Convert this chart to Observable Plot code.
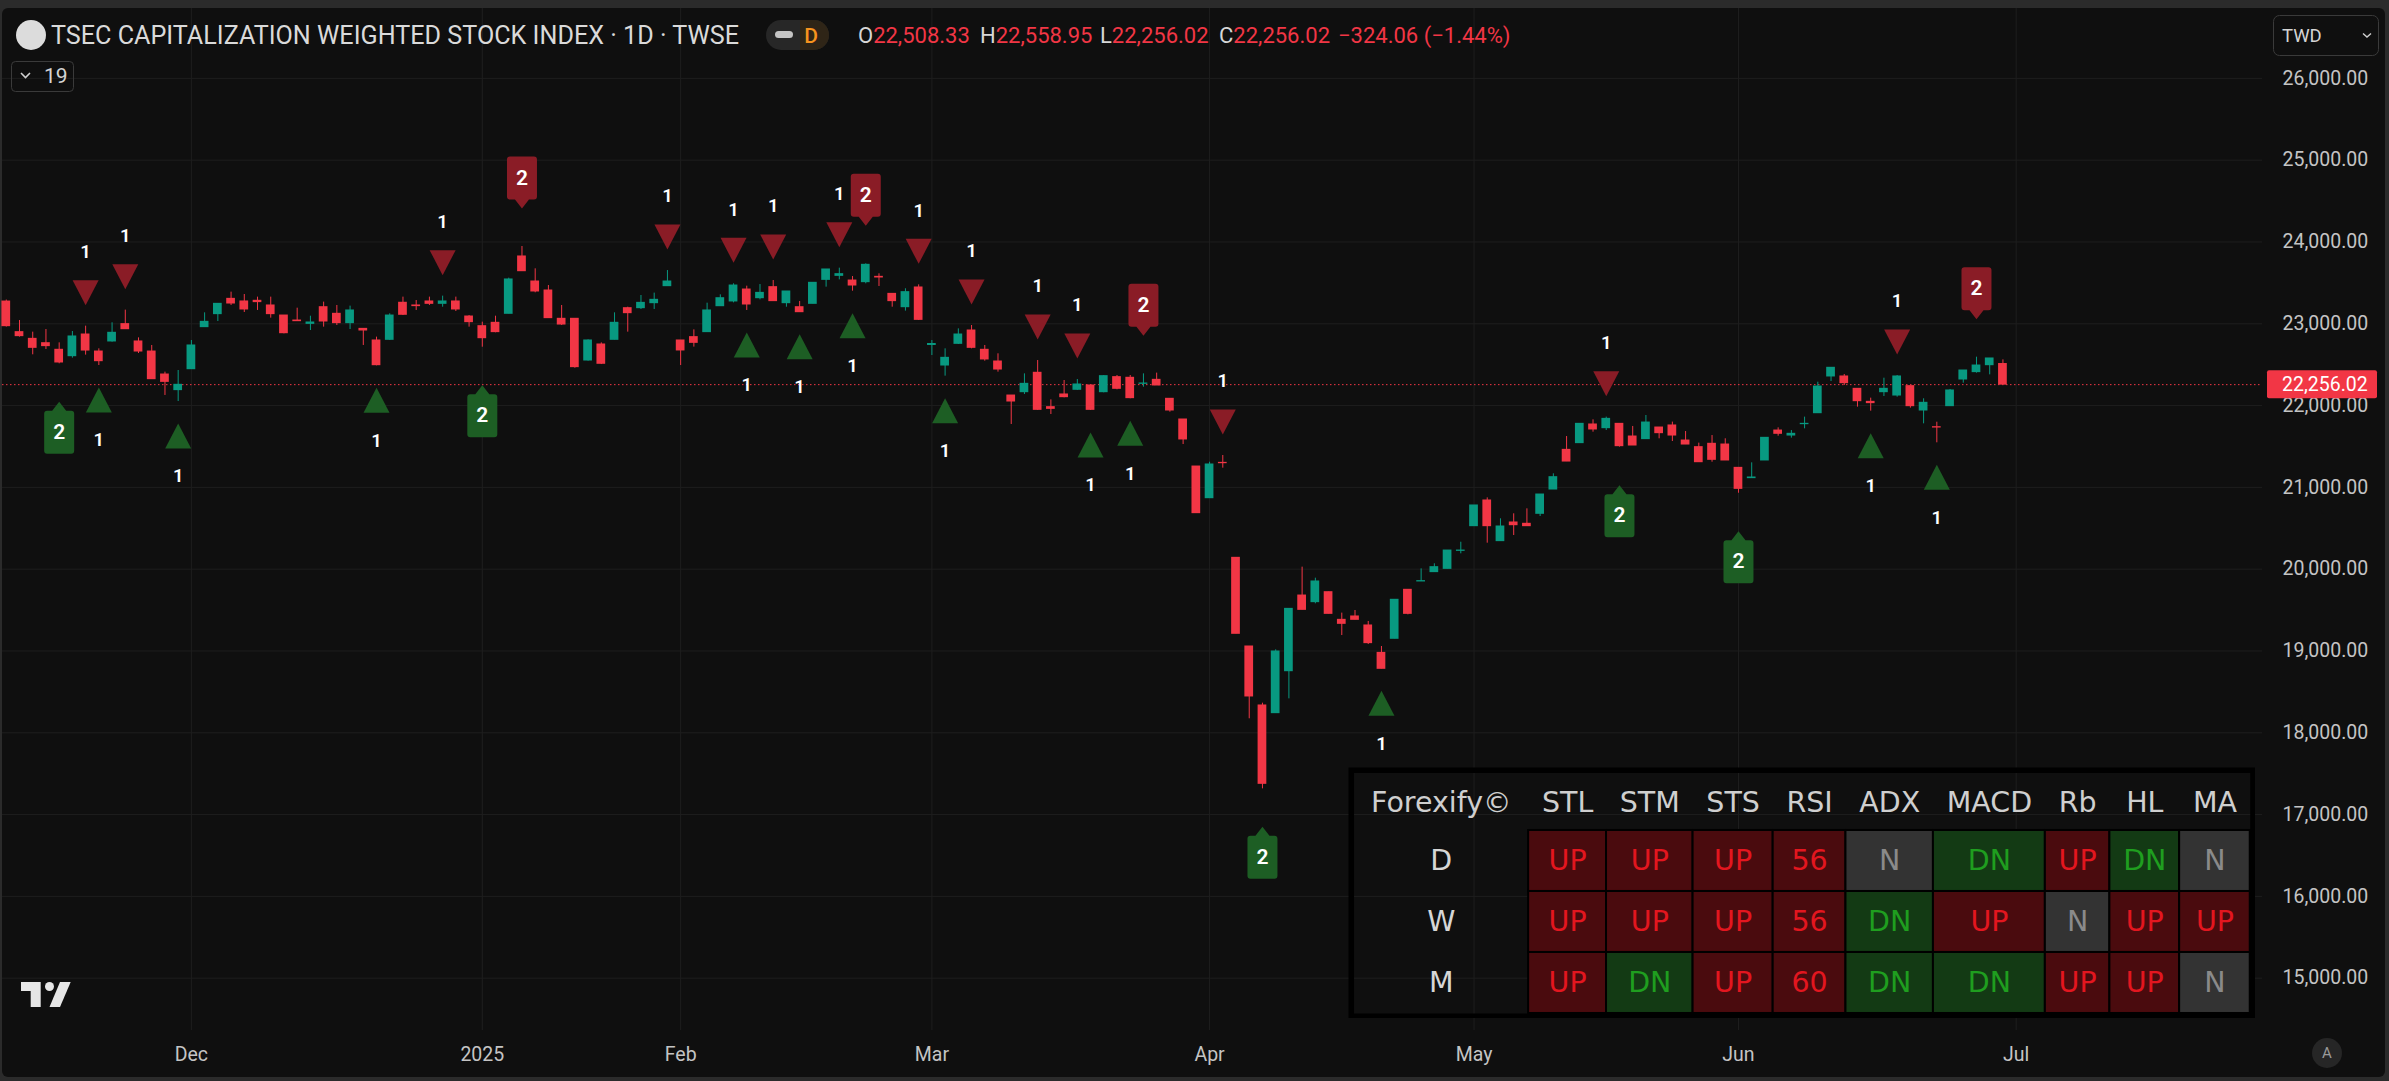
<!DOCTYPE html>
<html>
<head>
<meta charset="utf-8">
<script src="https://cdn.jsdelivr.net/npm/d3@7"></script>
<script src="https://cdn.jsdelivr.net/npm/@observablehq/plot@0.6"></script>
<style>
  html, body { margin: 0; padding: 0; background: #2b2b2b; }
  #wrap { position: relative; width: 2389px; height: 1081px; overflow: hidden; }
  #pane { position: absolute; left: 2px; top: 8px; width: 2383px; height: 1069px; background: #0f0f0f; border-radius: 6px; }
  #wrap > svg, #wrap > figure { position: absolute; margin: 0; }
</style>
</head>
<body>
<div id="wrap"><div id="pane"></div></div>
<script>
// ---------------- DATA ----------------
const dates = [
"2024-11-12","2024-11-13","2024-11-14","2024-11-15","2024-11-18","2024-11-19","2024-11-20","2024-11-21","2024-11-22","2024-11-25","2024-11-26","2024-11-27","2024-11-28","2024-11-29",
"2024-12-02","2024-12-03","2024-12-04","2024-12-05","2024-12-06","2024-12-09","2024-12-10","2024-12-11","2024-12-12","2024-12-13","2024-12-16","2024-12-17","2024-12-18","2024-12-19","2024-12-20","2024-12-23","2024-12-24","2024-12-25","2024-12-26","2024-12-27","2024-12-30","2024-12-31",
"2025-01-02","2025-01-03","2025-01-06","2025-01-07","2025-01-08","2025-01-09","2025-01-10","2025-01-13","2025-01-14","2025-01-15","2025-01-16","2025-01-17","2025-01-20","2025-01-21","2025-01-22",
"2025-02-03","2025-02-04","2025-02-05","2025-02-06","2025-02-07","2025-02-10","2025-02-11","2025-02-12","2025-02-13","2025-02-14","2025-02-17","2025-02-18","2025-02-19","2025-02-20","2025-02-21","2025-02-24","2025-02-25","2025-02-26","2025-02-27",
"2025-03-03","2025-03-04","2025-03-05","2025-03-06","2025-03-07","2025-03-10","2025-03-11","2025-03-12","2025-03-13","2025-03-14","2025-03-17","2025-03-18","2025-03-19","2025-03-20","2025-03-21","2025-03-24","2025-03-25","2025-03-26","2025-03-27","2025-03-28","2025-03-31",
"2025-04-01","2025-04-02","2025-04-07","2025-04-08","2025-04-09","2025-04-10","2025-04-11","2025-04-14","2025-04-15","2025-04-16","2025-04-17","2025-04-18","2025-04-21","2025-04-22","2025-04-23","2025-04-24","2025-04-25","2025-04-28","2025-04-29","2025-04-30",
"2025-05-02","2025-05-05","2025-05-06","2025-05-07","2025-05-08","2025-05-09","2025-05-12","2025-05-13","2025-05-14","2025-05-15","2025-05-16","2025-05-19","2025-05-20","2025-05-21","2025-05-22","2025-05-23","2025-05-26","2025-05-27","2025-05-28","2025-05-29",
"2025-06-02","2025-06-03","2025-06-04","2025-06-05","2025-06-06","2025-06-09","2025-06-10","2025-06-11","2025-06-12","2025-06-13","2025-06-16","2025-06-17","2025-06-18","2025-06-19","2025-06-20","2025-06-23","2025-06-24","2025-06-25","2025-06-26","2025-06-27","2025-06-30"];

const opens = [
23272,22898,22816,22763,22682,22604,22869,22661,22784,22996,22784,22661,22380,22189,
22445,22959,23118,23305,23273,23281,23224,23101,23040,22999,23203,23122,23008,22938,22796,22804,23257,23224,23273,23244,23273,23089,
22971,23012,23122,23823,23517,23407,23061,23061,22551,22747,22804,23191,23191,23252,23460,
22796,22837,22898,23215,23273,23419,23313,23448,23252,23203,23244,23537,23586,23529,23509,23574,23366,23203,23444,
22741,22490,22755,22918,22682,22539,22123,22164,22401,21981,22136,22193,22246,22164,22348,22340,22266,22315,22083,21830,21255,
20868,21300,20139,19055,18334,18240,18753,19678,19597,19719,19381,19422,19312,18977,19149,19748,19850,19964,20004,20224,
20526,20840,20343,20571,20555,20677,20974,21459,21541,21769,21724,21777,21622,21590,21732,21757,21573,21492,21533,21524,
21239,21113,21329,21695,21634,21773,21907,22356,22356,22205,22046,22164,22123,22238,21940,21736,21993,22319,22409,22494,22508.33];

const highs = [
23290,23040,22898,22930,22767,22906,22971,22694,23012,23167,22828,22735,22409,22429,
22796,23134,23244,23387,23358,23326,23326,23101,23191,23093,23265,23224,23216,22938,22837,23122,23326,23285,23326,23338,23326,23101,
23020,23093,23558,23945,23672,23468,23224,23061,22804,22767,23134,23203,23346,23375,23651,
22796,22926,23252,23354,23489,23460,23480,23529,23395,23273,23501,23664,23680,23578,23733,23611,23366,23428,23476,
22796,22694,22938,22979,22735,22633,22123,22388,22551,22070,22307,22319,22246,22368,22368,22368,22388,22397,22083,21830,21255,
21308,21390,20139,19055,18362,19014,19515,20025,19890,19719,19463,19495,19361,19055,19626,19748,20004,20066,20228,20330,
20779,20872,20616,20677,20738,20913,21166,21622,21777,21826,21859,21777,21745,21879,21732,21798,21683,21541,21634,21594,
21239,21300,21606,21728,21695,21859,22286,22462,22380,22205,22091,22335,22368,22238,22083,21797,22197,22429,22592,22576,22558.95];

const lows = [
22960,22837,22621,22686,22511,22580,22617,22490,22775,22930,22637,22323,22124,22050,
22441,22959,23028,23224,23138,23163,23069,22877,23032,22918,22959,22979,22930,22735,22486,22796,23101,23163,23224,23203,23150,22959,
22714,22890,23122,23643,23379,23069,22979,22457,22543,22502,22804,22898,23175,23175,23460,
22490,22715,22898,23215,23256,23163,23293,23277,23203,23142,23244,23448,23537,23399,23489,23456,23203,23155,23040,
22612,22360,22747,22694,22543,22409,21769,22136,21940,21891,22095,22185,21940,22156,22193,22083,22225,22246,21920,21524,20685,
20868,21235,19210,18171,17315,18240,18415,19503,19577,19454,19189,19381,19079,18782,19149,19442,19850,19964,20004,20188,
20526,20318,20343,20412,20526,20644,20974,21316,21541,21675,21696,21492,21512,21590,21594,21561,21524,21308,21308,21329,
20929,21113,21329,21626,21602,21716,21907,22294,22246,21981,21932,22111,22103,21969,21777,21545,21993,22274,22397,22376,22256.02];

const closes = [
22971,22849,22706,22727,22527,22845,22673,22543,22890,22934,22661,22323,22290,22254,
22735,23024,23244,23248,23175,23265,23118,22885,23032,23016,23028,23008,23163,22918,22494,23101,23110,23216,23244,23273,23175,23020,
22824,22898,23542,23643,23395,23069,22991,22470,22796,22511,23012,23130,23256,23293,23517,
22674,22767,23163,23313,23468,23236,23378,23277,23395,23142,23501,23664,23607,23468,23721,23566,23277,23387,23048,
22753,22584,22869,22706,22564,22441,22050,22266,21948,21960,22103,22258,21948,22360,22205,22091,22270,22246,21940,21586,20685,
21280,21296,19210,18444,17376,18994,19515,19503,19850,19454,19332,19381,19096,18782,19626,19454,19854,20025,20228,20228,
20779,20526,20522,20538,20526,20913,21125,21316,21777,21708,21838,21504,21512,21793,21663,21634,21524,21308,21337,21329,
20982,21121,21606,21655,21655,21777,22233,22462,22274,22054,22030,22205,22356,21993,22034,21732,22185,22429,22490,22576,22256.02];

// Signal markers (dates of bars)
const sell1Dates = ["2024-11-20","2024-11-25","2024-12-27","2025-01-22","2025-02-07","2025-02-12","2025-02-19","2025-02-27","2025-03-06","2025-03-13","2025-03-18","2025-04-02","2025-05-16","2025-06-18"];
const sell2Dates = ["2025-01-07","2025-02-21","2025-03-25","2025-06-26"];
const buy1Dates  = ["2024-11-21","2024-11-29","2024-12-20","2025-02-10","2025-02-14","2025-02-20","2025-03-04","2025-03-19","2025-03-24","2025-04-22","2025-06-16","2025-06-23"];
const buy2Dates  = ["2024-11-18","2025-01-02","2025-04-09","2025-05-19","2025-06-02"];

// Axis ticks
const yTicks = [15000,16000,17000,18000,19000,20000,21000,22000,23000,24000,25000,26000];
const monthTickDates  = ["2024-12-02","2025-01-02","2025-02-03","2025-03-03","2025-04-01","2025-05-02","2025-06-02","2025-07-01"];
const monthTickLabels = ["Dec","2025","Feb","Mar","Apr","May","Jun","Jul"];

// Header values
const titleText = "TSEC CAPITALIZATION WEIGHTED STOCK INDEX · 1D · TWSE";
const ohlcLabels = ["O","H","L","C"];
const ohlcValues = ["22,508.33","22,558.95","22,256.02","22,256.02"];
const changeText = "−324.06 (−1.44%)";

// Table values
const tblTitle = "Forexify©";
const tblCols = ["STL","STM","STS","RSI","ADX","MACD","Rb","HL","MA"];
const tblRows = ["D","W","M"];
const tblD = ["UP","UP","UP","56","N","DN","UP","DN","N"];
const tblW = ["UP","UP","UP","56","DN","UP","N","UP","UP"];
const tblM = ["UP","DN","UP","60","DN","DN","UP","UP","N"];

// ---------------- BUILD ----------------
const UP = "#089981", DOWN = "#f23645";
const SIG_RED = "#8a1c26", SIG_GREEN = "#1d5e24";
const GRID = "#1e1e1e";

const bars = dates.map((d, k) => ({k, date: d, open: opens[k], high: highs[k], low: lows[k], close: closes[k]}));
const byDate = new Map(bars.map(b => [b.date, b]));
const pick = arr => arr.map(d => byDate.get(d));
const sell1 = pick(sell1Dates), sell2 = pick(sell2Dates), buy1 = pick(buy1Dates), buy2 = pick(buy2Dates);
const monthK = monthTickDates.map(d => { const i = dates.indexOf(d); return i < 0 ? dates.length : i; });
const labelOfK = new Map(monthK.map((k, i) => [k, monthTickLabels[i]]));
const last = bars[bars.length - 1];

const triDown = {draw(c) { c.moveTo(-13, -12.5); c.lineTo(13, -12.5); c.lineTo(0, 12.5); c.closePath(); }};
const triUp   = {draw(c) { c.moveTo(-13, 12.5); c.lineTo(13, 12.5); c.lineTo(0, -12.5); c.closePath(); }};
function labelShape(s) { // s = 1 pointer below, s = -1 pointer above
  return {draw(c) {
    const w = 15, h = 21.5, r = 3;
    c.moveTo(-w + r, -h * s);
    c.lineTo(w - r, -h * s);
    c.quadraticCurveTo(w, -h * s, w, (-h + r) * s);
    c.lineTo(w, (h - r) * s);
    c.quadraticCurveTo(w, h * s, w - r, h * s);
    c.lineTo(7, h * s); c.lineTo(0, (h + 9) * s); c.lineTo(-7, h * s);
    c.lineTo(-w + r, h * s);
    c.quadraticCurveTo(-w, h * s, -w, (h - r) * s);
    c.lineTo(-w, (-h + r) * s);
    c.quadraticCurveTo(-w, -h * s, -w + r, -h * s);
    c.closePath();
  }};
}
const labelDown = labelShape(1), labelUp = labelShape(-1);
const col = d => d.close >= d.open ? UP : DOWN;

const chart = Plot.plot({
  width: 2389, height: 1081,
  marginTop: 8, marginBottom: 51, marginLeft: 2, marginRight: 127,
  style: {background: "transparent", color: "#bdbdbd", fontFamily: "Roboto, sans-serif", fontSize: "19.5px", overflow: "visible"},
  x: {type: "linear", domain: [-0.286, 170.63]},
  y: {type: "linear", domain: [14360.6, 26854.5]},
  marks: [
    Plot.ruleY(yTicks, {stroke: GRID}),
    Plot.ruleX(monthK, {stroke: GRID}),
    Plot.ruleY([last.close], {stroke: DOWN, strokeDasharray: "1.5 2.5", strokeWidth: 1}),
    Plot.ruleX(bars, {x: "k", y1: "low", y2: "high", stroke: col, strokeWidth: 1}),
    Plot.rect(bars, {x1: d => d.k - 0.33, x2: d => d.k + 0.33, y1: d => Math.min(d.open, d.close), y2: d => Math.max(d.open, d.close), fill: col, insetTop: -0.5, insetBottom: -0.5}),
    // signals
    Plot.dot(sell1, {x: "k", y: "high", symbol: triDown, fill: SIG_RED, stroke: "none", dy: -33.5}),
    Plot.text(sell1, {x: "k", y: "high", text: () => "1", dy: -74, fill: "#ffffff", fontSize: 18.5, fontWeight: 600}),
    Plot.dot(buy1, {x: "k", y: "low", symbol: triUp, fill: SIG_GREEN, stroke: "none", dy: 34.5}),
    Plot.text(buy1, {x: "k", y: "low", text: () => "1", dy: 75, fill: "#ffffff", fontSize: 18.5, fontWeight: 600}),
    Plot.dot(sell2, {x: "k", y: "high", symbol: labelDown, fill: SIG_RED, stroke: "none", dy: -68.5}),
    Plot.text(sell2, {x: "k", y: "high", text: () => "2", dy: -68.5, fill: "#ffffff", fontSize: 21, fontWeight: 600}),
    Plot.dot(buy2, {x: "k", y: "low", symbol: labelUp, fill: SIG_GREEN, stroke: "none", dy: 68.5}),
    Plot.text(buy2, {x: "k", y: "low", text: () => "2", dy: 68.5, fill: "#ffffff", fontSize: 21, fontWeight: 600}),
    Plot.axisY({anchor: "right", ticks: yTicks, tickFormat: ",.2f", tickSize: 0, tickPadding: 20, label: null, fill: "#c4c4c4"}),
    Plot.axisX({ticks: monthK, tickFormat: k => labelOfK.get(k), tickSize: 0, tickPadding: 17, label: null, fill: "#c4c4c4"})
  ]
});
chart.style.left = "0px"; chart.style.top = "0px";
document.getElementById("wrap").appendChild(chart);

// ---------------- TABLE (second Plot) ----------------
const TFONT = "28.5px 'DejaVu Sans'";
const cvs = document.createElement("canvas").getContext("2d");
cvs.font = TFONT;
const tw = s => cvs.measureText(s).width;
const tblVals = [tblD, tblW, tblM];
const border = 5.5, headerH = 57.5, rowH = 61;
const firstW = tw(tblTitle) + 34;
const colW = tblCols.map((c, j) => Math.max(tw(c), ...tblVals.map(r => tw(r[j]))) + 26.5);
const edges = [border + firstW];
colW.forEach(w => edges.push(edges[edges.length - 1] + w));
const TW = edges[edges.length - 1] + border;
const TH = border * 2 + headerH + rowH * tblRows.length;
const status = v => v === "DN" ? "dn" : v === "N" ? "n" : "up";
const BG = {up: "#4a0b0e", dn: "#133a14", n: "#333333"};
const FG = {up: "#e3161f", dn: "#1f9e1f", n: "#8a8a8a"};
const cells = [];
tblRows.forEach((r, i) => tblCols.forEach((c, j) => {
  const v = tblVals[i][j];
  cells.push({v, s: status(v), x1: edges[j], x2: edges[j + 1], y1: border + headerH + i * rowH, y2: border + headerH + (i + 1) * rowH});
}));
const heads = [{t: tblTitle, x: border + firstW / 2}, ...tblCols.map((c, j) => ({t: c, x: (edges[j] + edges[j + 1]) / 2}))];
const rowLabs = tblRows.map((r, i) => ({t: r, y: border + headerH + (i + 0.5) * rowH}));
const table = Plot.plot({
  width: TW, height: TH, margin: 0,
  x: {type: "identity", axis: null}, y: {type: "identity", axis: null},
  style: {background: "transparent", fontFamily: "'DejaVu Sans', sans-serif", fontSize: "28.5px"},
  marks: [
    Plot.frame({stroke: "#000000", strokeWidth: border, inset: border / 2}),
    Plot.rect(cells, {x1: "x1", x2: "x2", y1: "y1", y2: "y2", fill: d => BG[d.s], stroke: "#000000", strokeWidth: 2}),
    Plot.text(heads, {x: "x", y: () => border + headerH / 2 + 1, text: "t", fill: "#cfcfcf"}),
    Plot.text(rowLabs, {x: () => border + firstW / 2, y: "y", text: "t", fill: "#d6d6d6"}),
    Plot.text(cells, {x: d => (d.x1 + d.x2) / 2, y: d => (d.y1 + d.y2) / 2, text: "v", fill: d => FG[d.s]})
  ]
});
table.style.left = (2255 - TW) + "px";
table.style.top = (1018 - TH) + "px";
document.getElementById("wrap").appendChild(table);

// ---------------- OVERLAY (header, price label, decorations) ----------------
const yS = chart.scale("y");
const ov = d3.create("svg").attr("width", 2389).attr("height", 1081)
  .style("left", "0px").style("top", "0px").style("font-family", "Roboto, sans-serif");
// symbol circle + title
ov.append("circle").attr("cx", 31).attr("cy", 35).attr("r", 15).attr("fill", "#dcdcdc");
ov.append("text").attr("x", 51).attr("y", 44).attr("font-size", 25).attr("fill", "#dadada")
  .attr("textLength", 688).attr("lengthAdjust", "spacingAndGlyphs").text(titleText);
// D pill
ov.append("rect").attr("x", 766).attr("y", 20).attr("width", 63).attr("height", 30).attr("rx", 15).attr("fill", "#272727");
ov.append("path").attr("d", "M800,20 H814 A15,15 0 0 1 814,50 H800 Z").attr("fill", "#2f2517");
ov.append("rect").attr("x", 775).attr("y", 31).attr("width", 18).attr("height", 7).attr("rx", 3.5).attr("fill", "#c4c4c4");
ov.append("text").attr("x", 811).attr("y", 43).attr("font-size", 21).attr("font-weight", 500).attr("text-anchor", "middle").attr("fill", "#f7931e").text("D");
// OHLC
const ohlcX = [858, 980, 1100, 1219];
ohlcLabels.forEach((l, i) => {
  const t = ov.append("text").attr("x", ohlcX[i]).attr("y", 43).attr("font-size", 22);
  t.append("tspan").attr("fill", "#d6d6d6").text(l);
  t.append("tspan").attr("fill", DOWN).text(ohlcValues[i]);
});
ov.append("text").attr("x", 1338).attr("y", 43).attr("font-size", 22).attr("fill", DOWN).text(changeText);
// legend collapse "19"
ov.append("rect").attr("x", 11.5).attr("y", 61.5).attr("width", 62).attr("height", 30).attr("rx", 4).attr("fill", "none").attr("stroke", "#3a3a3a");
ov.append("path").attr("d", "M21,73 L25.5,77.5 L30,73").attr("fill", "none").attr("stroke", "#d0d0d0").attr("stroke-width", 1.6);
ov.append("text").attr("x", 44).attr("y", 83).attr("font-size", 21).attr("fill", "#d4d4d4").text("19");
// TWD box
ov.append("rect").attr("x", 2273.5).attr("y", 15.5).attr("width", 105).attr("height", 40).attr("rx", 6).attr("fill", "#0f0f0f").attr("stroke", "#3a3a3a");
ov.append("text").attr("x", 2282).attr("y", 42).attr("font-size", 18.5).attr("fill", "#d4d4d4").text("TWD");
ov.append("path").attr("d", "M2363,33.5 L2367,37 L2371,33.5").attr("fill", "none").attr("stroke", "#d0d0d0").attr("stroke-width", 1.4);
// last price label
const py = yS.apply(last.close);
ov.append("rect").attr("x", 2267).attr("y", py - 14).attr("width", 110).attr("height", 28).attr("rx", 2).attr("fill", DOWN);
ov.append("text").attr("x", 2282).attr("y", py).attr("dy", "0.35em").attr("font-size", 19.5).attr("fill", "#ffffff")
  .text(d3.format(",.2f")(last.close));
// "A" button
ov.append("circle").attr("cx", 2327).attr("cy", 1053).attr("r", 15).attr("fill", "#262626");
ov.append("text").attr("x", 2327).attr("y", 1053).attr("dy", "0.35em").attr("text-anchor", "middle").attr("font-size", 15).attr("fill", "#9a9a9a").text("A");
// TradingView logo
const logo = ov.append("g").attr("fill", "#e6e6e6");
logo.append("path").attr("d", "M21,982 H40.7 V1007 H30.7 V991 H21 Z");
logo.append("circle").attr("cx", 49.5).attr("cy", 986.5).attr("r", 4.5);
logo.append("path").attr("d", "M60,982 H70.7 L60,1007 H49.5 Z");
document.getElementById("wrap").appendChild(ov.node());
</script>
</body>
</html>
